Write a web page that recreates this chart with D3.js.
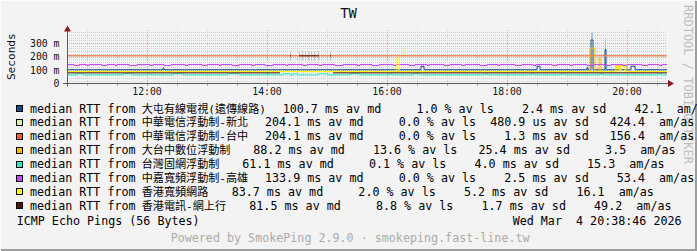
<!DOCTYPE html>
<html><head><meta charset="utf-8">
<script src="https://cdn.jsdelivr.net/npm/d3@7"></script>
<style>
html,body{margin:0;padding:0;background:#f3f3f3;overflow:hidden;}
svg text{white-space:pre;}
</style></head><body>
<svg id="c" width="697" height="251"></svg>
<script>
// ---------------- data ----------------
const title = "TW";
const yTickValues = [0, 100, 200, 300];
const yTickLabels = ["0", "100 m", "200 m", "300 m"];
const xTickLabels = ["12:00", "14:00", "16:00", "18:00", "20:00"];
const startTime = "2026-03-04T10:40:00";
const endTime = "2026-03-04T20:40:00";

const targets = ["大屯有線電視(遠傳線路)", "中華電信浮動制-新北", "中華電信浮動制-台中", "大台中數位浮動制",
  "台灣固網浮動制", "中嘉寬頻浮動制-高雄", "香港寬頻網路", "香港電訊-網上行"];
const seriesColors = ["#104e8b", "#d4f5a0", "#ff5533", "#ffb800", "#20f0c0", "#c445f5", "#ffff00", "#4a1208"];
const avgMedian = ["100.7", "204.1", "204.1", "88.2", "61.1", "133.9", "83.7", "81.5"];
const avgLoss = ["1.0", "0.0", "0.0", "13.6", "0.1", "0.0", "2.0", "8.8"];
const avgSd = ["2.4", "480.9", "1.3", "25.4", "4.0", "2.5", "5.2", "1.7"];
const sdUnit = ["ms", "us", "ms", "ms", "ms", "ms", "ms", "ms"];
const avgAmAs = ["42.1", "424.4", "156.4", "3.5", "15.3", "53.4", "16.1", "49.2"];

// median RTT (ms) as step changes: [minutes after 10:40, value]
const medBlue = [[0,102],[96,114],[97,102],[354,128],[357,102],[470,128],[473,102],[520,118],[521,102],
  [524,322],[526,102],[538,253],[539,102],[564,128],[568,102],[600,102]];
const medGreen = [[0,205],[336,265],[337,205],[600,205]];
const medRed = [[0,205],[600,205]];
const medOrange = [[0,88],[523,262],[528,88],[532,186],[534,88],[549,137],[552,100],[553,137],[560,88],[600,88]];
const medAqua = [[0,64],[10,72],[16,64],[56,72],[65,64],[81,72],[83,64],[106,72],[116,64],[161,72],[173,64],
  [200,72],[202,64],[216,72],[223,64],[226,72],[230,64],[251,72],[261,64],[283,72],[293,64],[323,72],[325,64],
  [346,72],[353,64],[418,72],[420,64],[465,72],[467,64],[495,72],[497,64],[533,72],[535,64],[591,72],[594,64],[600,64]];
const medPurple = [[0,141],[7,133],[12,141],[20,133],[22,141],[35,133],[40,141],[48,133],[50,141],[62,133],[70,141],
  [83,133],[86,141],[97,133],[104,141],[118,133],[121,141],[135,133],[140,141],[152,133],[154,141],[165,133],[172,141],
  [185,133],[188,141],[198,133],[206,141],[219,133],[221,141],[236,133],[240,141],[252,133],[255,141],[268,133],[276,141],
  [290,133],[293,141],[305,133],[312,141],[326,133],[329,141],[342,133],[348,141],[360,133],[362,141],[377,133],[383,141],
  [395,133],[398,141],[413,133],[420,141],[431,133],[433,141],[448,133],[455,141],[466,133],[469,141],[485,133],[490,141],
  [503,133],[506,141],[520,133],[527,141],[540,133],[544,141],[556,133],[560,141],[575,133],[581,141],[592,133],[595,141],[600,141]];
const medYellow = [[0,88],[330,186],[332,88],[549,125],[552,88],[554,125],[558,88],[600,88]];
const medBrown = [[0,79],[213,79],[213,NaN],[223,205],[224,205],[224,NaN],[232,205],[252,205],[252,NaN],
  [263,205],[264,205],[264,NaN],[266,79],[600,79]];
const medians = [medBlue, medGreen, medRed, medOrange, medAqua, medPurple, medYellow, medBrown];

// smoke (ping spread): [minutes, low ms, high ms]
const smokeBlue = [[524,322,378],[525,322,378],[538,253,330]];
const smokeBrown = [[223,168,238],[232,168,238],[235,168,238],[238,168,238],[241,168,238],[244,168,238],[247,168,238],[251,168,238],[263,168,238]];
const smokeSets = [[0, smokeBlue], [7, smokeBrown]];
const smokeColors = ["#a8c4e4", "#c8c8c8"];

// ---------------- layout ----------------
const L = 67, R = 667, T = 29.5, B = 83.5;
const legendStatX = [282.7, 265, 265, 253.3, 242.3, 265, 231.7, 249.3];
const mono = "'DejaVu Sans Mono', 'Noto Sans CJK TC', monospace";

const svg = d3.select("#c");
const t0 = new Date(startTime);
const tAt = m => new Date(t0.getTime() + m * 60000);
const x = d3.scaleTime().domain([t0, new Date(endTime)]).range([L, R]);
const y = d3.scaleLinear().domain([0, 400]).range([B, T]);

// background + 3D frame
svg.append("rect").attr("width", 697).attr("height", 251).attr("fill", "#f3f3f3");
svg.append("path").attr("d", "M0,250V0H696").attr("stroke", "#fcfcfc").attr("stroke-width", 2).attr("fill", "none");
svg.append("path").attr("d", "M1,250H696V1").attr("stroke", "#9e9e9e").attr("stroke-width", 2).attr("fill", "none");

// grid
const g = svg.append("g").attr("shape-rendering", "crispEdges");
d3.range(20, 400, 20).filter(v => v % 100 !== 0).forEach(v => {
  g.append("line").attr("x1", L).attr("x2", R).attr("y1", Math.round(y(v)) + 0.5).attr("y2", Math.round(y(v)) + 0.5)
    .attr("stroke", "#d2d2d2").attr("stroke-dasharray", "1,1");
});
x.ticks(d3.timeMinute.every(30)).forEach(d => {
  const major = d.getMinutes() === 0 && d.getHours() % 2 === 0;
  if (major) return;
  g.append("line").attr("x1", Math.round(x(d)) + 0.5).attr("x2", Math.round(x(d)) + 0.5).attr("y1", T).attr("y2", B)
    .attr("stroke", "#d2d2d2").attr("stroke-dasharray", "1,1");
});
yTickValues.filter(v => v > 0).forEach(v => {
  g.append("line").attr("x1", L).attr("x2", R).attr("y1", Math.round(y(v)) + 0.5).attr("y2", Math.round(y(v)) + 0.5)
    .attr("stroke", "#eaa0a0").attr("stroke-dasharray", "1,1");
});
const parseHM = s => { const [h, m] = s.split(":").map(Number); const d = new Date(t0); d.setHours(h, m, 0, 0); return d; };
xTickLabels.forEach(s => {
  const xx = Math.round(x(parseHM(s))) + 0.5;
  g.append("line").attr("x1", xx).attr("x2", xx).attr("y1", T).attr("y2", B)
    .attr("stroke", "#eaa0a0").attr("stroke-dasharray", "1,1");
});

// smoke
smokeSets.forEach(([si, arr], k) => {
  svg.append("g").selectAll("rect").data(arr).join("rect")
    .attr("x", d => x(tAt(d[0]))).attr("width", d => x(tAt(d[0] + 1)) - x(tAt(d[0])))
    .attr("y", d => y(d[2])).attr("height", d => y(d[1]) - y(d[2]))
    .attr("fill", smokeColors[k]);
});

// median lines
const line = d3.line().defined(d => !isNaN(d[1])).x(d => x(tAt(d[0]))).y(d => y(d[1])).curve(d3.curveStepAfter);
medians.forEach((arr, i) => {
  svg.append("path").datum(arr).attr("d", line).attr("fill", "none")
    .attr("stroke", seriesColors[i]).attr("stroke-width", 1);
});

// axes
svg.append("line").attr("x1", L - 4).attr("x2", R + 2).attr("y1", B).attr("y2", B).attr("stroke", "#5a5a5a");
svg.append("line").attr("x1", L + 0.5).attr("x2", L + 0.5).attr("y1", B + 3).attr("y2", T - 1).attr("stroke", "#5a5a5a");
svg.append("path").attr("d", `M${L + 0.5 - 3.5},${T + 2}L${L + 0.5},${T - 4}L${L + 0.5 + 3.5},${T + 2}Z`).attr("fill", "#8b1a1a");
svg.append("path").attr("d", `M${R + 1},${B - 3.5}L${R + 7},${B}L${R + 1},${B + 3.5}Z`).attr("fill", "#8b1a1a");
x.ticks(d3.timeMinute.every(30)).forEach(d => {
  svg.append("line").attr("x1", Math.round(x(d)) + 0.5).attr("x2", Math.round(x(d)) + 0.5).attr("y1", B).attr("y2", B + 2)
    .attr("stroke", "#8a8a8a");
});

// tick labels
svg.append("g").selectAll("text").data(yTickValues).join("text")
  .attr("x", 59.5).attr("y", v => y(v) + 3.6).attr("text-anchor", "end")
  .attr("font-family", mono).attr("font-size", 9.8).attr("fill", "#111")
  .text((v, i) => yTickLabels[i]);
svg.append("g").selectAll("text").data(xTickLabels).join("text")
  .attr("x", s => x(parseHM(s))).attr("y", 95.3).attr("text-anchor", "middle")
  .attr("font-family", mono).attr("font-size", 9.8).attr("fill", "#111").text(s => s);

// title & axis title
svg.append("text").attr("x", 348.5).attr("y", 18).attr("text-anchor", "middle")
  .attr("font-family", mono).attr("font-size", 13.9).attr("fill", "#111").text(title);
svg.append("text").attr("transform", "translate(14.8,56.7) rotate(-90)").attr("text-anchor", "middle")
  .attr("font-family", mono).attr("font-size", 11.1).attr("fill", "#111").text("Seconds");
svg.append("text").attr("transform", "translate(684,5) rotate(90)").attr("text-anchor", "start")
  .attr("font-family", mono).attr("font-size", 12).attr("fill", "#bdbdbd").text("RRDTOOL / TOBI OETIKER");

// legend
const rowY = i => 112.5 + i * 13.9;
const pad = (s, w) => s.padStart(w, " ");
targets.forEach((name, i) => {
  svg.append("rect").attr("x", 16).attr("y", rowY(i) - 7).attr("width", 6).attr("height", 6)
    .attr("fill", seriesColors[i]).attr("stroke", "#000").attr("stroke-width", 1).attr("shape-rendering", "crispEdges");
  const t = svg.append("text").attr("x", 30).attr("y", rowY(i)).attr("font-family", mono).attr("font-size", 11.7)
    .attr("fill", "#000");
  t.append("tspan").text("median RTT from ");
  t.append("tspan").attr("x", 141.7).attr("font-size", 11.1).text(name);
  const stats = avgMedian[i] + " ms av md" + pad(avgLoss[i], 8) + " % av ls" + pad(avgSd[i], 7) + " " + sdUnit[i] +
    " av sd" + pad(avgAmAs[i], 8) + "  am/as";
  svg.append("text").attr("x", legendStatX[i]).attr("y", rowY(i)).attr("font-family", mono).attr("font-size", 11.7)
    .attr("fill", "#000").text(stats);
});
svg.append("text").attr("x", 16.7).attr("y", 224.5).attr("font-family", mono).attr("font-size", 11.7)
  .attr("fill", "#000").text("ICMP Echo Pings (56 Bytes)");
svg.append("text").attr("x", 512.7).attr("y", 224.5).attr("font-family", mono).attr("font-size", 11.7)
  .attr("fill", "#000").text("Wed Mar  4 20:38:46 2026");
svg.append("text").attr("x", 170.7).attr("y", 241.5).attr("font-family", mono).attr("font-size", 11.7)
  .attr("fill", "#ababab").text("Powered by SmokePing 2.9.0 · smokeping.fast-line.tw");
</script>
</body></html>
